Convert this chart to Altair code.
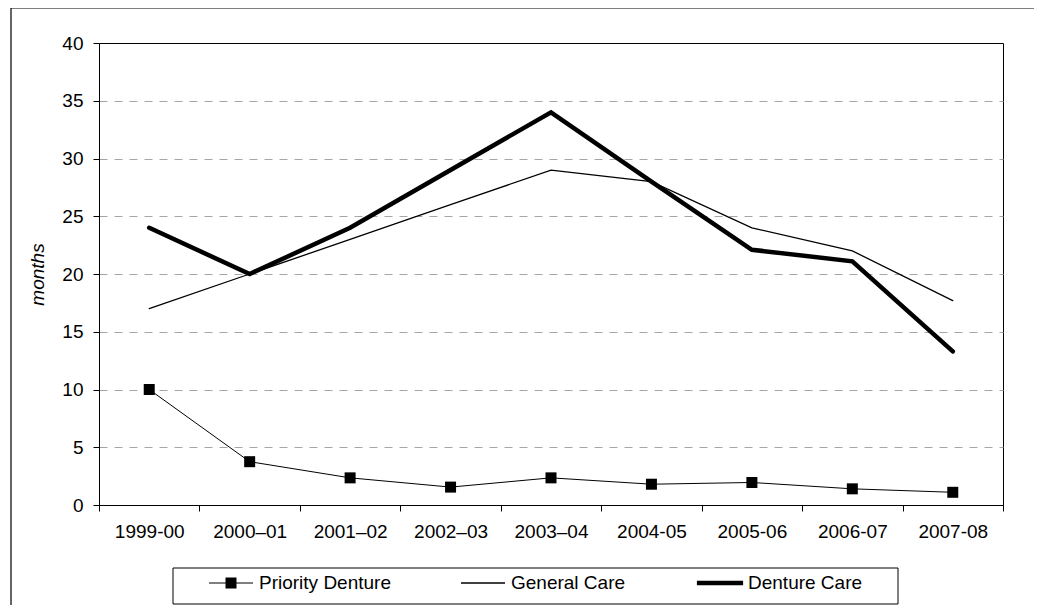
import altair as alt
import pandas as pd

# values
years = ["1999-00", "2000–01", "2001–02", "2002–03", "2003–04",
         "2004-05", "2005-06", "2006-07", "2007-08"]
priority_denture = [10.0, 3.75, 2.35, 1.55, 2.35, 1.8, 1.95, 1.4, 1.1]
general_care = [17.0, 20.0, 23.0, 26.0, 29.0, 28.0, 24.0, 22.0, 17.7]
denture_care = [24.0, 20.0, 24.0, 29.0, 34.0, 28.0, 22.1, 21.1, 13.3]

series_names = ["Priority Denture", "General Care", "Denture Care"]
line_widths = [1, 1.3, 4.5]

# legend symbols (line + marker), in unit symbol coordinates
legend_paths = [
    "M-1,-0.023H1V0.023H-1ZM-0.25,-0.25H0.25V0.25H-0.25Z",
    "M-1,-0.03H1V0.03H-1Z",
    "M-1.05,-0.105H1.05V0.105H-1.05Z",
]

rows = []
for name, vals in zip(series_names, [priority_denture, general_care, denture_care]):
    for yr, v in zip(years, vals):
        rows.append({"year": yr, "months": v, "series": name})
df = pd.DataFrame(rows)

FONT = "Liberation Sans"

x_enc = alt.X("year:N", sort=years,
              scale=alt.Scale(type="band", paddingInner=0, paddingOuter=0),
              axis=alt.Axis(title=None, labelAngle=0, tickBand="extent",
                            grid=False, tickSize=6, labelPadding=11))
y_enc = alt.Y("months:Q", scale=alt.Scale(domain=[0, 40], nice=False),
              axis=alt.Axis(title="months", values=list(range(0, 41, 5)),
                            grid=True, gridColor="#a6a6a6", gridDash=[8, 7],
                            gridOpacity=alt.condition("datum.value == 40 || datum.value == 0",
                                                      alt.value(0), alt.value(1)),
                            tickSize=6, labelPadding=10,
                            titleFontStyle="italic", titleFontWeight="normal",
                            titlePadding=14))

###
# frames: outer border and legend box
###
one = pd.DataFrame({"k": [0]})
frame = alt.Chart(one).mark_rect(fillOpacity=0, stroke="black", strokeWidth=1.2).encode(
    x=alt.value(-88), x2=alt.value(948), y=alt.value(-35), y2=alt.value(575))
legend_box = alt.Chart(one).mark_rect(fillOpacity=0, stroke="black", strokeWidth=1).encode(
    x=alt.value(74), x2=alt.value(799), y=alt.value(525), y2=alt.value(561))

###
# series
###
# reversed domain order so this (hidden) legend is not merged with the shape legend
lines = alt.Chart(df).mark_line(color="black", strokeCap="round", strokeJoin="miter").encode(
    x=x_enc, y=y_enc,
    strokeWidth=alt.StrokeWidth("series:N",
                                scale=alt.Scale(type="ordinal", domain=series_names[::-1],
                                                range=line_widths[::-1]),
                                legend=None))

markers = alt.Chart(df).transform_filter(alt.datum.series == "Priority Denture")\
    .mark_square(color="black", size=121, opacity=1)\
    .encode(x=x_enc, y=y_enc)

# carrier layer for the legend only: zero-size points
legend_layer = alt.Chart(df).mark_point(filled=True, color="black", size=0).encode(
    x=x_enc, y=y_enc,
    shape=alt.Shape("series:N",
                    scale=alt.Scale(domain=series_names, range=legend_paths),
                    legend=alt.Legend(title=None, orient="none", legendX=110, legendY=518,
                                      direction="horizontal", symbolSize=1936,
                                      labelOffset=6, columnPadding=70, padding=0,
                                      symbolOpacity=1, symbolFillColor="black",
                                      symbolStrokeWidth=0, labelFont=FONT, labelFontSize=19,
                                      labelColor="black")))

chart = alt.layer(frame, legend_box, lines, markers, legend_layer).properties(
    width=904, height=462,
    padding={"left": 91, "top": 35, "right": 31, "bottom": 100},
    autosize=alt.AutoSizeParams(type="none"),
).configure_view(stroke="black", strokeWidth=1).configure_axis(
    labelFont=FONT, labelFontSize=19, labelColor="black",
    titleFont=FONT, titleFontSize=19, titleColor="black",
    domainColor="black", tickColor="black", domainWidth=1, tickWidth=1,
)

chart.save("out.html", embed_options={"renderer": "svg", "actions": False})
